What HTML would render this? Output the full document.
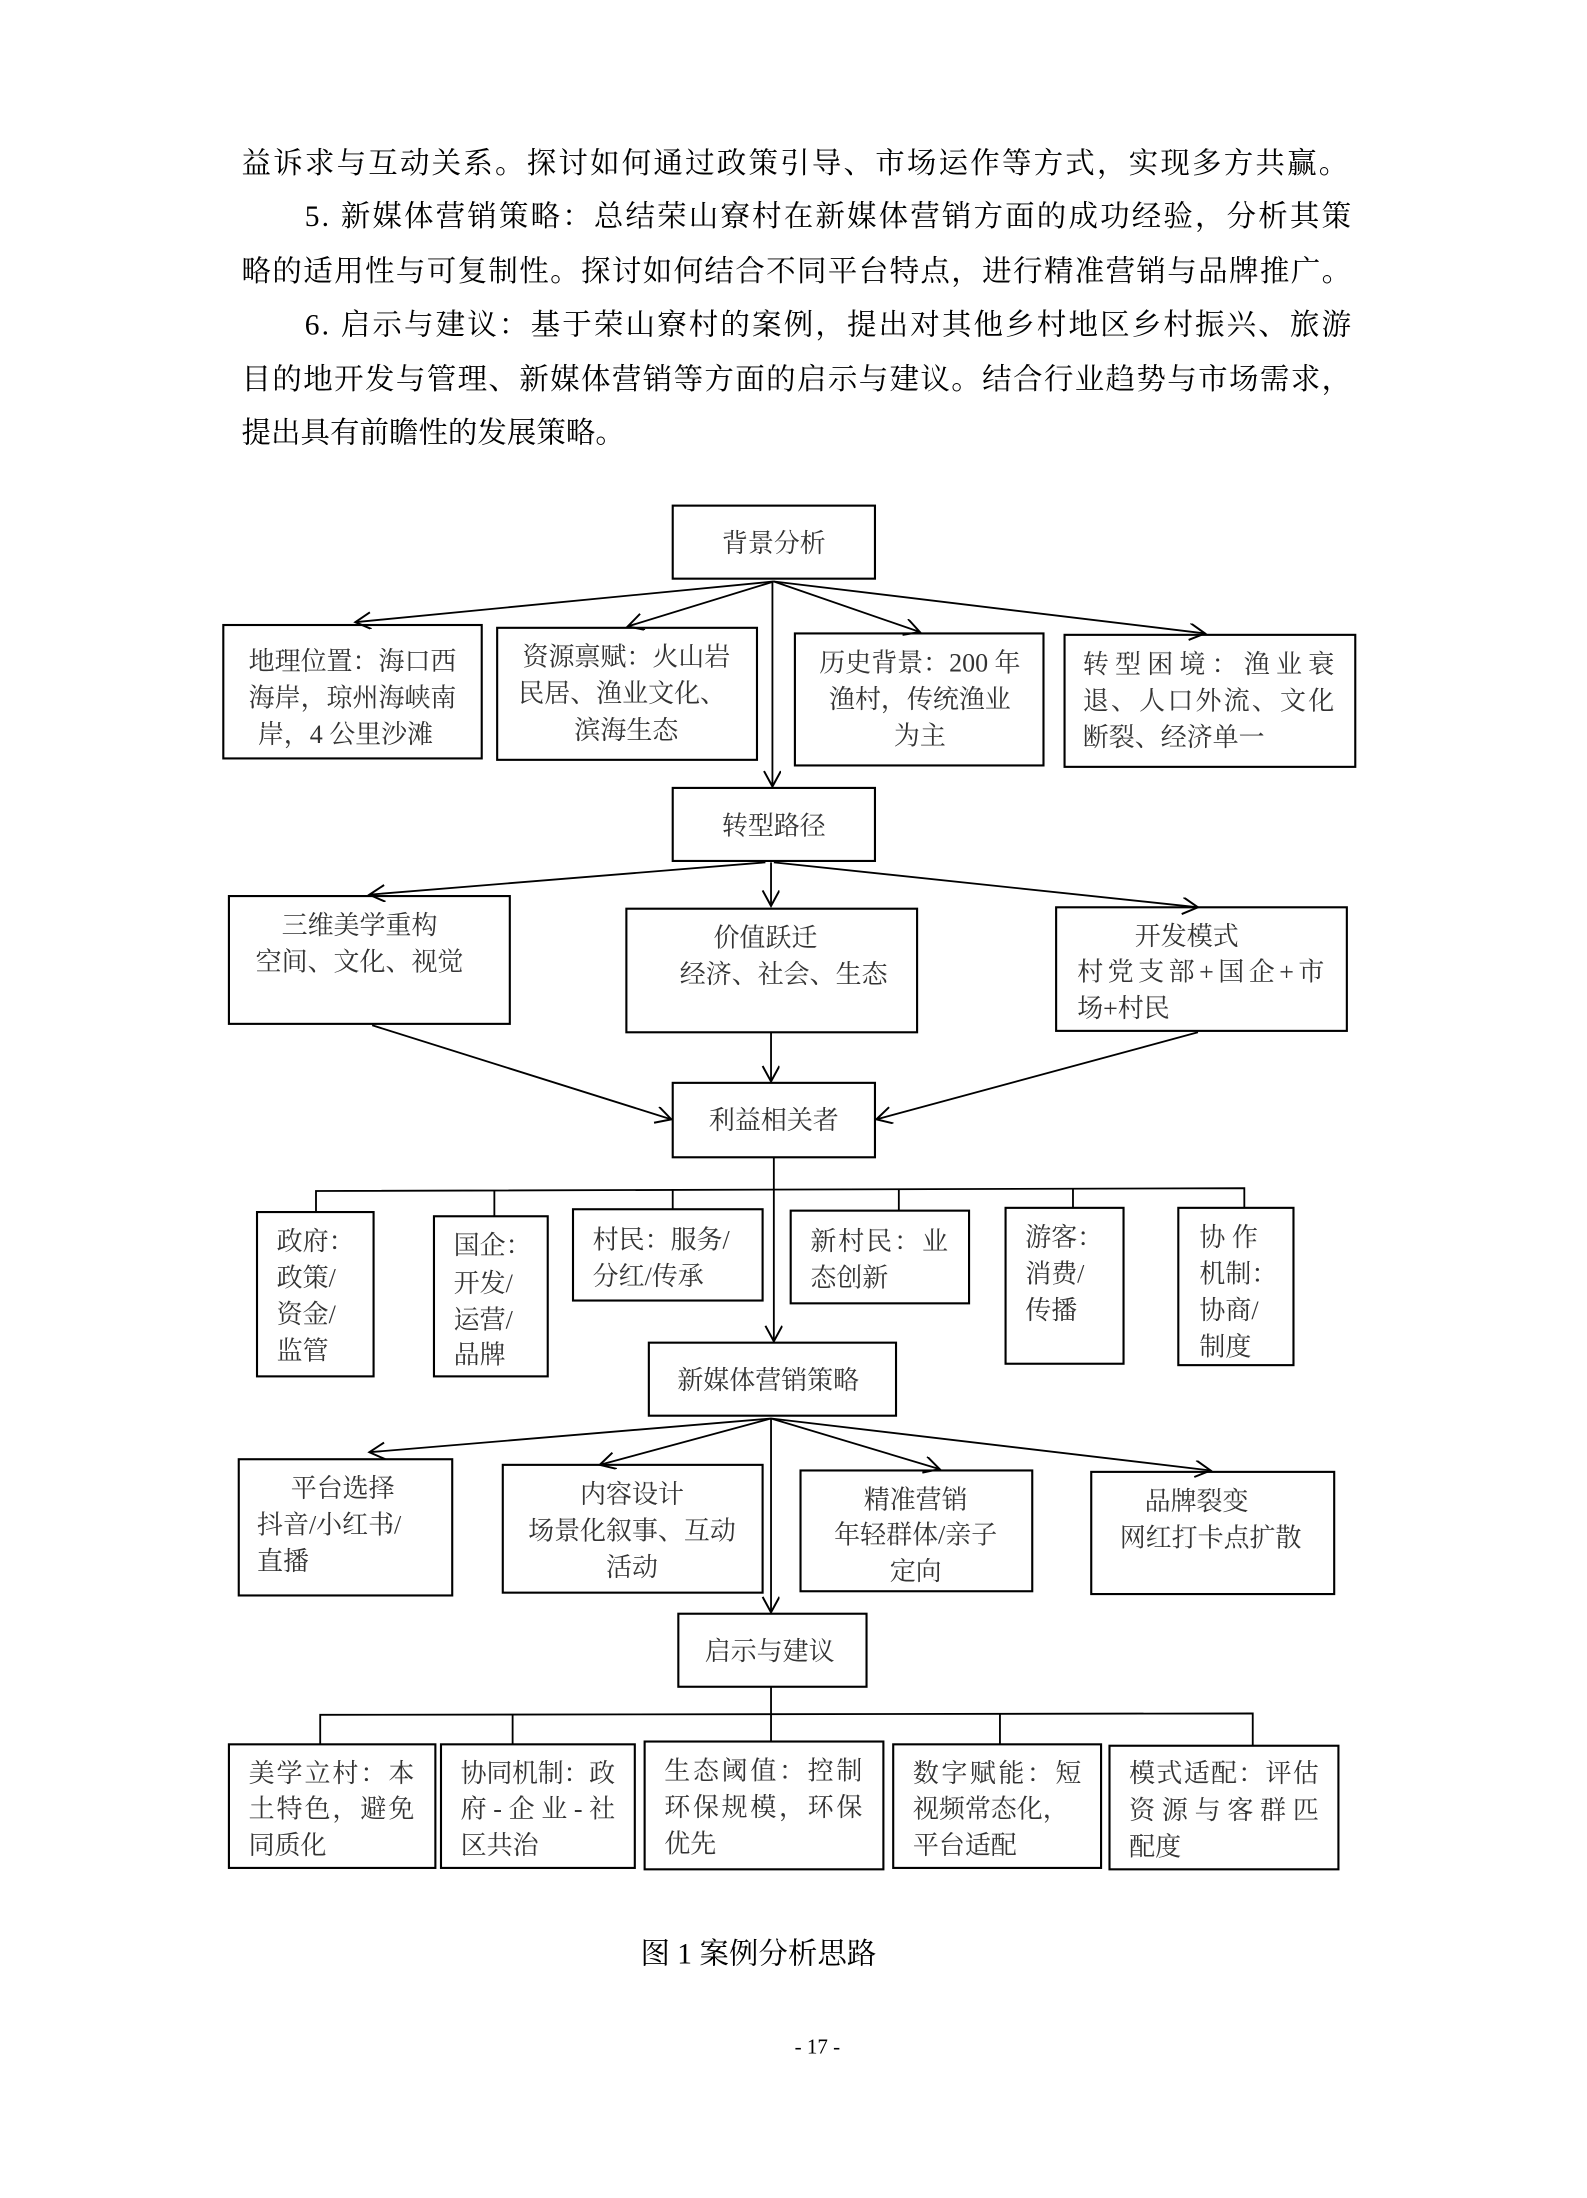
<!DOCTYPE html>
<html><head><meta charset="utf-8"><style>
html,body{margin:0;padding:0;background:#fff}
svg{display:block}
text{font-family:"Liberation Serif","Noto Serif CJK SC",serif;fill:#1a1a1a}
.p{font-size:21px;fill:#000}
.b{font-size:18.5px;fill:#333}
</style></head><body>
<svg width="1587" height="2198" viewBox="0 0 1130 1565" xmlns="http://www.w3.org/2000/svg">
<defs><marker id="a" markerWidth="14" markerHeight="14" refX="12" refY="6" orient="auto" markerUnits="userSpaceOnUse"><path d="M1,0 L12,6 L1,12" fill="none" stroke="#000" stroke-width="1.4"/></marker></defs>
<text class="p" x="172" y="123" textLength="788">益诉求与互动关系。探讨如何通过政策引导、市场运作等方式，实现多方共赢。</text>
<text class="p" x="217" y="161" textLength="745">5. 新媒体营销策略：总结荣山寮村在新媒体营销方面的成功经验，分析其策</text>
<text class="p" x="172" y="200" textLength="790">略的适用性与可复制性。探讨如何结合不同平台特点，进行精准营销与品牌推广。</text>
<text class="p" x="217" y="238" textLength="745">6. 启示与建议：基于荣山寮村的案例，提出对其他乡村地区乡村振兴、旅游</text>
<text class="p" x="172" y="277" textLength="790">目的地开发与管理、新媒体营销等方面的启示与建议。结合行业趋势与市场需求，</text>
<text class="p" x="172" y="315">提出具有前瞻性的发展策略。</text>

<g fill="none" stroke="#000" stroke-width="1.5">
<rect x="479" y="360" width="144" height="52"/>
<rect x="159" y="445" width="184" height="95"/>
<rect x="354" y="447" width="185" height="94"/>
<rect x="566" y="451" width="177" height="94"/>
<rect x="758" y="452" width="207" height="94"/>
<rect x="479" y="561" width="144" height="52"/>
<rect x="163" y="638" width="200" height="91"/>
<rect x="446" y="647" width="207" height="88"/>
<rect x="752" y="646" width="207" height="88"/>
<rect x="479" y="771" width="144" height="53"/>
<rect x="183" y="863" width="83" height="117"/>
<rect x="309" y="866" width="81" height="114"/>
<rect x="408" y="861" width="135" height="65"/>
<rect x="563" y="862" width="127" height="66"/>
<rect x="716" y="860" width="84" height="111"/>
<rect x="839" y="860" width="82" height="112"/>
<rect x="462" y="956" width="176" height="52"/>
<rect x="170" y="1039" width="152" height="97"/>
<rect x="358" y="1043" width="185" height="91"/>
<rect x="570" y="1047" width="165" height="86"/>
<rect x="777" y="1048" width="173" height="87"/>
<rect x="483" y="1149" width="134" height="52"/>
<rect x="163" y="1242" width="147" height="88"/>
<rect x="314" y="1242" width="138" height="88"/>
<rect x="459" y="1240" width="170" height="91"/>
<rect x="636" y="1242" width="148" height="88"/>
<rect x="790" y="1243" width="163" height="88"/>
</g>
<g fill="none" stroke="#000" stroke-width="1.3" marker-end="url(#a)">
<line x1="551" y1="414" x2="253" y2="443"/>
<line x1="551" y1="414" x2="447" y2="446"/>
<line x1="551" y1="414" x2="655" y2="450"/>
<line x1="551" y1="414" x2="858" y2="451"/>
<line x1="550" y1="414" x2="550" y2="560"/>
<line x1="545" y1="614" x2="263" y2="637"/>
<line x1="549" y1="614" x2="549" y2="645"/>
<line x1="551" y1="614" x2="853" y2="646"/>
<line x1="265" y1="730" x2="478" y2="797"/>
<line x1="549" y1="735" x2="549" y2="770"/>
<line x1="853" y1="735" x2="624" y2="797"/>
<line x1="551" y1="824" x2="551" y2="955"/>
<line x1="549" y1="1010" x2="263" y2="1034"/>
<line x1="549" y1="1010" x2="427" y2="1043"/>
<line x1="549" y1="1010" x2="669" y2="1046"/>
<line x1="549" y1="1010" x2="862" y2="1047"/>
<line x1="549" y1="1010" x2="549" y2="1148"/>
</g>
<g fill="none" stroke="#000" stroke-width="1.3">
<polyline points="225,863 225,848 886,846 886,860"/>
<line x1="352" y1="848" x2="352" y2="866"/>
<line x1="479" y1="847" x2="479" y2="861"/>
<line x1="640" y1="847" x2="640" y2="862"/>
<line x1="764" y1="846" x2="764" y2="860"/>
<line x1="549" y1="1201" x2="549" y2="1240"/>
<polyline points="228,1242 228,1221 892,1220 892,1243"/>
<line x1="365" y1="1221" x2="365" y2="1242"/>
<line x1="712" y1="1220" x2="712" y2="1242"/>
</g>

<g class="b">
<text class="b" x="551" y="393" text-anchor="middle">背景分析</text>
<text class="b" x="251" y="477" text-anchor="middle">地理位置：海口西</text>
<text class="b" x="251" y="503" text-anchor="middle">海岸，琼州海峡南</text>
<text class="b" x="246" y="529" text-anchor="middle">岸，4 公里沙滩</text>
<text class="b" x="446" y="474" text-anchor="middle">资源禀赋：火山岩</text>
<text class="b" x="443" y="500" text-anchor="middle">民居、渔业文化、</text>
<text class="b" x="446" y="526" text-anchor="middle">滨海生态</text>
<text class="b" x="655" y="478" text-anchor="middle">历史背景：200 年</text>
<text class="b" x="655" y="504" text-anchor="middle">渔村，传统渔业</text>
<text class="b" x="655" y="530" text-anchor="middle">为主</text>
<text class="b" x="771" y="479" textLength="179">转型困境：渔业衰</text>
<text class="b" x="771" y="505" textLength="179">退、人口外流、文化</text>
<text class="b" x="771" y="531">断裂、经济单一</text>
<text class="b" x="551" y="594" text-anchor="middle">转型路径</text>
<text class="b" x="256" y="665" text-anchor="middle">三维美学重构</text>
<text class="b" x="256" y="691" text-anchor="middle">空间、文化、视觉</text>
<text class="b" x="545" y="674" text-anchor="middle">价值跃迁</text>
<text class="b" x="558" y="700" text-anchor="middle">经济、社会、生态</text>
<text class="b" x="845" y="673" text-anchor="middle">开发模式</text>
<text class="b" x="767" y="698" textLength="176">村党支部+国企+市</text>
<text class="b" x="767" y="724">场+村民</text>
<text class="b" x="551" y="804" text-anchor="middle">利益相关者</text>
<text class="b" x="197" y="890">政府：</text>
<text class="b" x="197" y="916">政策/</text>
<text class="b" x="197" y="942">资金/</text>
<text class="b" x="197" y="968">监管</text>
<text class="b" x="323" y="893">国企：</text>
<text class="b" x="323" y="920">开发/</text>
<text class="b" x="323" y="946">运营/</text>
<text class="b" x="323" y="971">品牌</text>
<text class="b" x="422" y="889">村民：服务/</text>
<text class="b" x="422" y="915">分红/传承</text>
<text class="b" x="577" y="890" textLength="98">新村民：业</text>
<text class="b" x="577" y="916">态创新</text>
<text class="b" x="730" y="887">游客：</text>
<text class="b" x="730" y="913">消费/</text>
<text class="b" x="730" y="939">传播</text>
<text class="b" x="854" y="887">协  作</text>
<text class="b" x="854" y="913">机制：</text>
<text class="b" x="854" y="939">协商/</text>
<text class="b" x="854" y="965">制度</text>
<text class="b" x="547" y="989" text-anchor="middle">新媒体营销策略</text>
<text class="b" x="244" y="1066" text-anchor="middle">平台选择</text>
<text class="b" x="183" y="1092">抖音/小红书/</text>
<text class="b" x="183" y="1118">直播</text>
<text class="b" x="450" y="1070" text-anchor="middle">内容设计</text>
<text class="b" x="450" y="1096" text-anchor="middle">场景化叙事、互动</text>
<text class="b" x="450" y="1122" text-anchor="middle">活动</text>
<text class="b" x="652" y="1074" text-anchor="middle">精准营销</text>
<text class="b" x="652" y="1099" text-anchor="middle">年轻群体/亲子</text>
<text class="b" x="652" y="1125" text-anchor="middle">定向</text>
<text class="b" x="852" y="1075" text-anchor="middle">品牌裂变</text>
<text class="b" x="862" y="1101" text-anchor="middle">网红打卡点扩散</text>
<text class="b" x="548" y="1182" text-anchor="middle">启示与建议</text>
<text class="b" x="177" y="1269" textLength="118">美学立村：本</text>
<text class="b" x="177" y="1294" textLength="118">土特色，避免</text>
<text class="b" x="177" y="1320">同质化</text>
<text class="b" x="328" y="1269" textLength="110">协同机制：政</text>
<text class="b" x="328" y="1294" textLength="110">府-企业-社</text>
<text class="b" x="328" y="1320">区共治</text>
<text class="b" x="473" y="1267" textLength="141">生态阈值：控制</text>
<text class="b" x="473" y="1293" textLength="141">环保规模，环保</text>
<text class="b" x="473" y="1319">优先</text>
<text class="b" x="650" y="1269" textLength="120">数字赋能：短</text>
<text class="b" x="650" y="1294">视频常态化，</text>
<text class="b" x="650" y="1320">平台适配</text>
<text class="b" x="804" y="1269" textLength="135">模式适配：评估</text>
<text class="b" x="804" y="1295" textLength="135">资源与客群匹</text>
<text class="b" x="804" y="1321">配度</text>
</g>
<text class="p" x="540" y="1398" text-anchor="middle" style="fill:#000">图 1  案例分析思路</text>
<text x="582" y="1462" text-anchor="middle" style="font-size:15px;fill:#000">- 17 -</text>
</svg>
</body></html>
